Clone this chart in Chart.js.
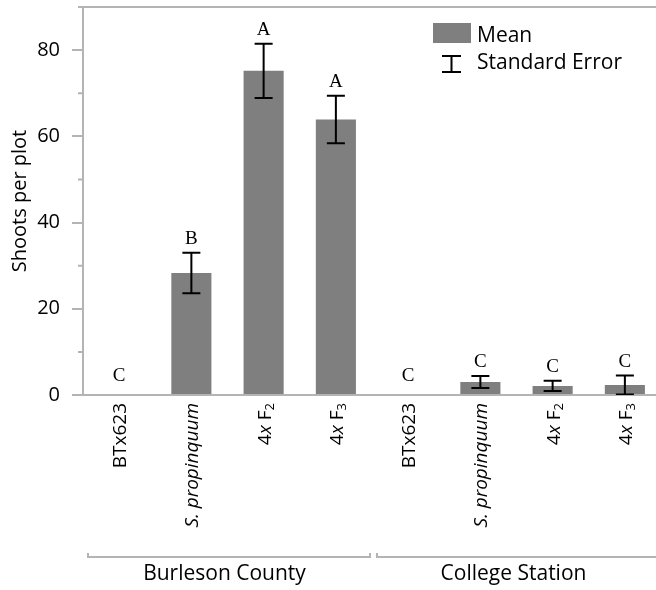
<!DOCTYPE html>
<html>
<head>
<meta charset="utf-8">
<script src="https://cdn.jsdelivr.net/npm/chart.js@4.4.1/dist/chart.umd.min.js"></script>
<style>
  html, body { margin: 0; padding: 0; overflow: hidden; background: #fff; }
  #wrap { width: 680px; height: 590px; }
</style>
</head>
<body>
<div id="wrap"><canvas id="c" width="680" height="590"></canvas></div>
<script>
// Shoot counts per plot for each line at two field sites
const categories = ['BTx623', 'S. propinquum', '4x F2', '4x F3', 'BTx623', 'S. propinquum', '4x F2', '4x F3'];
const groups = ['Burleson County', 'College Station'];
const groupSize = 4;
const means = [0, 28.3, 75.2, 63.9, 0, 3.0, 2.1, 2.3];
const stdErr = [0, 4.7, 6.3, 5.5, 0, 1.4, 1.2, 2.2];
const letters = ['C', 'B', 'A', 'A', 'C', 'C', 'C', 'C'];
const yTicks = [0, 20, 40, 60, 80];
const yMinorTicks = [10, 30, 50, 70, 90];
const legendLabels = ['Mean', 'Standard Error'];

const SANS = '"Open Sans", "Noto Sans", sans-serif';
const SERIF = '"Liberation Serif", "Times New Roman", serif';
const AXIS_GRAY = '#b4b4b4';
const BAR_GRAY = '#7f7f7f';

// Split a category name into styled runs (italic species name, italic "x", subscript generation)
function labelRuns(label) {
  if (/^S\. /.test(label)) return [{ t: label, italic: true }];
  const m = label.match(/^(\d)x F(\d)$/);
  if (m) return [{ t: m[1] }, { t: 'x', italic: true }, { t: ' F' }, { t: m[2], sub: true }];
  return [{ t: label }];
}
function runFont(r) {
  const size = r.sub ? 13 : 19;
  return (r.italic ? 'italic ' : '') + size + 'px ' + SANS;
}

const overlay = {
  id: 'overlay',
  afterDatasetsDraw(chart) {
    const { ctx, scales: { x, y }, chartArea } = chart;
    ctx.save();
    ctx.beginPath();
    ctx.rect(chartArea.left, chartArea.top - 20, chartArea.right - chartArea.left, chartArea.bottom - chartArea.top + 20);
    ctx.clip();
    ctx.strokeStyle = '#000';
    ctx.lineWidth = 2;
    const cap = 9;
    means.forEach((m, i) => {
      const e = stdErr[i];
      if (!e) return;
      const cx = x.getPixelForValue(i);
      const yt = y.getPixelForValue(m + e);
      const yb = y.getPixelForValue(Math.max(0, m - e));
      ctx.beginPath();
      ctx.moveTo(cx, yt); ctx.lineTo(cx, yb);
      ctx.moveTo(cx - cap, yt); ctx.lineTo(cx + cap, yt);
      ctx.moveTo(cx - cap, yb); ctx.lineTo(cx + cap, yb);
      ctx.stroke();
    });
    ctx.restore();

    // significance letters above each bar
    ctx.save();
    ctx.fillStyle = '#000';
    ctx.font = '19px ' + SERIF;
    ctx.textAlign = 'center';
    ctx.textBaseline = 'alphabetic';
    letters.forEach((L, i) => {
      const top = means[i] + stdErr[i];
      const cx = x.getPixelForValue(i);
      const gap = top > 0 ? 9 : 14;
      ctx.fillText(L, cx, y.getPixelForValue(top) - gap);
    });
    ctx.restore();
  },
  afterDraw(chart) {
    const { ctx, scales: { x, y }, chartArea } = chart;
    ctx.save();

    // minor ticks and the top frame line
    ctx.strokeStyle = AXIS_GRAY;
    ctx.lineWidth = 2;
    ctx.beginPath();
    yMinorTicks.forEach(v => {
      const py = y.getPixelForValue(v);
      ctx.moveTo(chartArea.left - 5, py);
      ctx.lineTo(chartArea.left, py);
    });
    ctx.moveTo(chartArea.left, chartArea.top);
    ctx.lineTo(chart.width, chartArea.top);
    ctx.stroke();

    // rotated category labels
    ctx.fillStyle = '#000';
    ctx.textBaseline = 'alphabetic';
    ctx.textAlign = 'left';
    categories.forEach((label, i) => {
      const runs = labelRuns(label);
      let w = 0;
      runs.forEach(r => { ctx.font = runFont(r); r.w = ctx.measureText(r.t).width; w += r.w; });
      ctx.save();
      ctx.translate(x.getPixelForValue(i), chartArea.bottom + 8);
      ctx.rotate(-Math.PI / 2);
      let px = -w;
      runs.forEach(r => {
        ctx.font = runFont(r);
        ctx.fillText(r.t, px, r.sub ? 10 : 7);
        px += r.w;
      });
      ctx.restore();
    });

    // group brackets and names
    const step = (x.getPixelForValue(1) - x.getPixelForValue(0));
    groups.forEach((g, k) => {
      const gl = x.getPixelForValue(k * groupSize) - step / 2;
      const gr = x.getPixelForValue(k * groupSize + groupSize - 1) + step / 2;
      const by = 557;
      ctx.strokeStyle = AXIS_GRAY;
      ctx.lineWidth = 2;
      ctx.beginPath();
      ctx.moveTo(gl + 5, by - 4); ctx.lineTo(gl + 5, by); ctx.lineTo(gr - 2, by); ctx.lineTo(gr - 2, by - 4);
      ctx.stroke();
      ctx.fillStyle = '#000';
      ctx.font = '21px ' + SANS;
      ctx.textAlign = 'center';
      ctx.fillText(g, (gl + gr) / 2 - 3, 580);
    });

    // legend
    ctx.fillStyle = BAR_GRAY;
    ctx.fillRect(433, 23, 38, 20);
    ctx.strokeStyle = '#000';
    ctx.lineWidth = 2;
    ctx.beginPath();
    ctx.moveTo(451.5, 56); ctx.lineTo(451.5, 72);
    ctx.moveTo(442, 56); ctx.lineTo(461, 56);
    ctx.moveTo(442, 72); ctx.lineTo(461, 72);
    ctx.stroke();
    ctx.fillStyle = '#000';
    ctx.font = '21px ' + SANS;
    ctx.textAlign = 'left';
    ctx.fillText(legendLabels[0], 477, 41.5);
    ctx.fillText(legendLabels[1], 477, 68.5);

    ctx.restore();
  }
};

new Chart(document.getElementById('c'), {
  type: 'bar',
  data: {
    labels: categories,
    datasets: [{
      label: legendLabels[0],
      data: means,
      backgroundColor: BAR_GRAY,
      borderWidth: 0,
      categoryPercentage: 1,
      barPercentage: 0.555
    }]
  },
  options: {
    responsive: false,
    animation: false,
    events: [],
    devicePixelRatio: 1,
    layout: { padding: { top: 7, right: 19, left: 0, bottom: 0 } },
    plugins: { legend: { display: false }, tooltip: { enabled: false } },
    scales: {
      x: {
        grid: { display: false },
        border: { display: true, color: AXIS_GRAY, width: 2 },
        ticks: { display: false },
        afterFit: s => { s.height = 195; s.paddingLeft = 0; s.paddingRight = 0; }
      },
      y: {
        min: 0,
        max: 90,
        afterBuildTicks: s => { s.ticks = yTicks.map(v => ({ value: v })); },
        afterFit: s => { s.width = 83; s.paddingTop = 0; s.paddingBottom = 0; },
        grid: { drawOnChartArea: false, drawTicks: true, tickLength: 11, color: AXIS_GRAY, lineWidth: 2 },
        border: { display: true, color: AXIS_GRAY, width: 2 },
        ticks: { padding: 12, color: '#000', font: { family: SANS, size: 20 } },
        title: { display: true, text: 'Shoots per plot', color: '#000', font: { family: SANS, size: 20 }, padding: { top: 8, bottom: 0 } }
      }
    }
  },
  plugins: [overlay]
});
</script>
</body>
</html>
